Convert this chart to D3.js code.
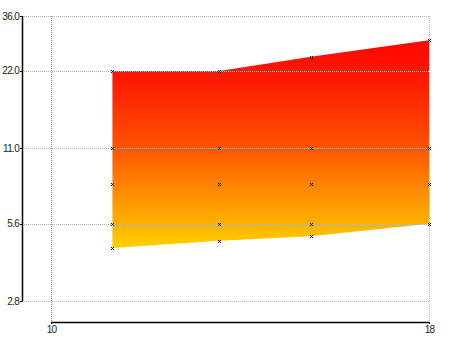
<!DOCTYPE html>
<html>
<head>
<meta charset="utf-8">
<script src="https://cdn.jsdelivr.net/npm/d3@7"></script>
<style>
  html, body { margin: 0; padding: 0; background: #fff; }
  svg { display: block; }
  .tick-label { font-family: "Liberation Sans", Arial, sans-serif; font-size: 10px; fill: #222; letter-spacing: -0.7px; }
</style>
</head>
<body>
<svg id="chart" width="450" height="337"></svg>
<script>
// Sample positions along x
const xValues = [11.3, 13.56, 15.5, 18];
// Upper and lower bounds of the filled band
const upperValues = [22, 22, 25, 29];
const lowerValues = [4.5, 4.8, 5.0, 5.6];
// Intermediate levels marked inside the band
const level11 = [11, 11, 11, 11];
const level8 = [8, 8, 8, 8];
const level56 = [5.6, 5.6, 5.6, 5.6];

const yTicks = [2.8, 5.6, 11.0, 22.0, 36.0];
const xTicks = [10, 18];

const svg = d3.select("#chart");

const x = d3.scaleLinear().domain([10, 18]).range([51, 429]);
const y = d3.scaleLog().domain([2.8, 36]).range([301, 16]);

const plotLeft = 22, plotRight = 429, plotTop = 16, plotBottom = 301, xAxisY = 322;

// Gradient: red at the top of the band, yellow at the bottom
const defs = svg.append("defs");
const grad = defs.append("linearGradient")
  .attr("id", "bandFill")
  .attr("gradientUnits", "userSpaceOnUse")
  .attr("x1", 0).attr("x2", 0)
  .attr("y1", y(29)).attr("y2", y(4.5));
[[0, "#ff0600"], [0.2, "#ff1c00"], [0.5, "#ff5000"], [0.72, "#ff8a00"], [0.88, "#ffb000"], [1, "#ffd200"]]
  .forEach(([o, c]) => grad.append("stop").attr("offset", o).attr("stop-color", c));

const hLine = sel => sel
  .attr("x1", plotLeft).attr("x2", plotRight)
  .attr("y1", d => Math.round(y(d)) + 0.5).attr("y2", d => Math.round(y(d)) + 0.5);

// Grid lines behind the band (dotted)
const grid = svg.append("g").attr("stroke", "#8a8a8a").attr("stroke-width", 1).attr("stroke-dasharray", "1,1");
grid.selectAll("line.h").data(yTicks).join("line").call(hLine);
grid.selectAll("line.v").data(xTicks).join("line")
  .attr("x1", d => Math.round(x(d)) + 0.5).attr("x2", d => Math.round(x(d)) + 0.5)
  .attr("y1", plotTop).attr("y2", xAxisY);

// Filled band
const rows = xValues.map((xv, i) => ({ x: xv, hi: upperValues[i], lo: lowerValues[i] }));
const area = d3.area().x(d => x(d.x)).y0(d => y(d.lo)).y1(d => y(d.hi));
svg.append("path").datum(rows).attr("d", area).attr("fill", "url(#bandFill)");

// Grid lines over the band, lighter dots
const grid2 = svg.append("g").attr("stroke", "#b4b4b4").attr("stroke-width", 1).attr("stroke-dasharray", "1,1");
grid2.selectAll("line").data(yTicks).join("line").call(hLine);
grid2.append("line")
  .attr("x1", Math.round(x(18)) + 0.5).attr("x2", Math.round(x(18)) + 0.5)
  .attr("y1", plotTop).attr("y2", xAxisY);

// Markers
const series = [upperValues, level11, level8, level56, lowerValues];
const pts = [];
series.forEach(s => s.forEach((v, i) => pts.push({ x: xValues[i], v })));
const mk = svg.append("g").attr("stroke", "#000").attr("stroke-width", 1);
pts.forEach(p => {
  const cx = Math.round(x(p.x)) + 0.5, cy = Math.round(y(p.v)) + 0.5;
  mk.append("path").attr("d", `M${cx - 1.5},${cy - 1.5}L${cx + 1.5},${cy + 1.5}M${cx - 1.5},${cy + 1.5}L${cx + 1.5},${cy - 1.5}`);
});

// Y axis
const yAxis = svg.append("g");
yAxis.append("line").attr("x1", plotLeft + 0.5).attr("x2", plotLeft + 0.5)
  .attr("y1", plotTop).attr("y2", plotBottom + 0.5).attr("stroke", "#000").attr("stroke-width", 1.5);
yAxis.selectAll("line.t").data(yTicks).join("line")
  .attr("x1", plotLeft - 2).attr("x2", plotLeft)
  .attr("y1", d => Math.round(y(d)) + 0.5).attr("y2", d => Math.round(y(d)) + 0.5)
  .attr("stroke", "#000");
yAxis.selectAll("text").data(yTicks).join("text")
  .attr("class", "tick-label")
  .attr("x", plotLeft - 3).attr("y", d => y(d))
  .attr("dy", "0.35em").attr("text-anchor", "end")
  .text(d3.format(".1f"));

// X axis
const xAxis = svg.append("g");
xAxis.append("line").attr("x1", x(10)).attr("x2", x(18) + 0.5)
  .attr("y1", xAxisY + 0.5).attr("y2", xAxisY + 0.5).attr("stroke", "#000").attr("stroke-width", 1.5);
xAxis.selectAll("line.t").data(xTicks).join("line")
  .attr("x1", d => Math.round(x(d)) + 0.5).attr("x2", d => Math.round(x(d)) + 0.5)
  .attr("y1", xAxisY).attr("y2", xAxisY + 2).attr("stroke", "#000");
xAxis.selectAll("text").data(xTicks).join("text")
  .attr("class", "tick-label")
  .attr("x", d => x(d) + 0.5).attr("y", xAxisY + 11)
  .attr("text-anchor", "middle")
  .text(d => d);
</script>
</body>
</html>
